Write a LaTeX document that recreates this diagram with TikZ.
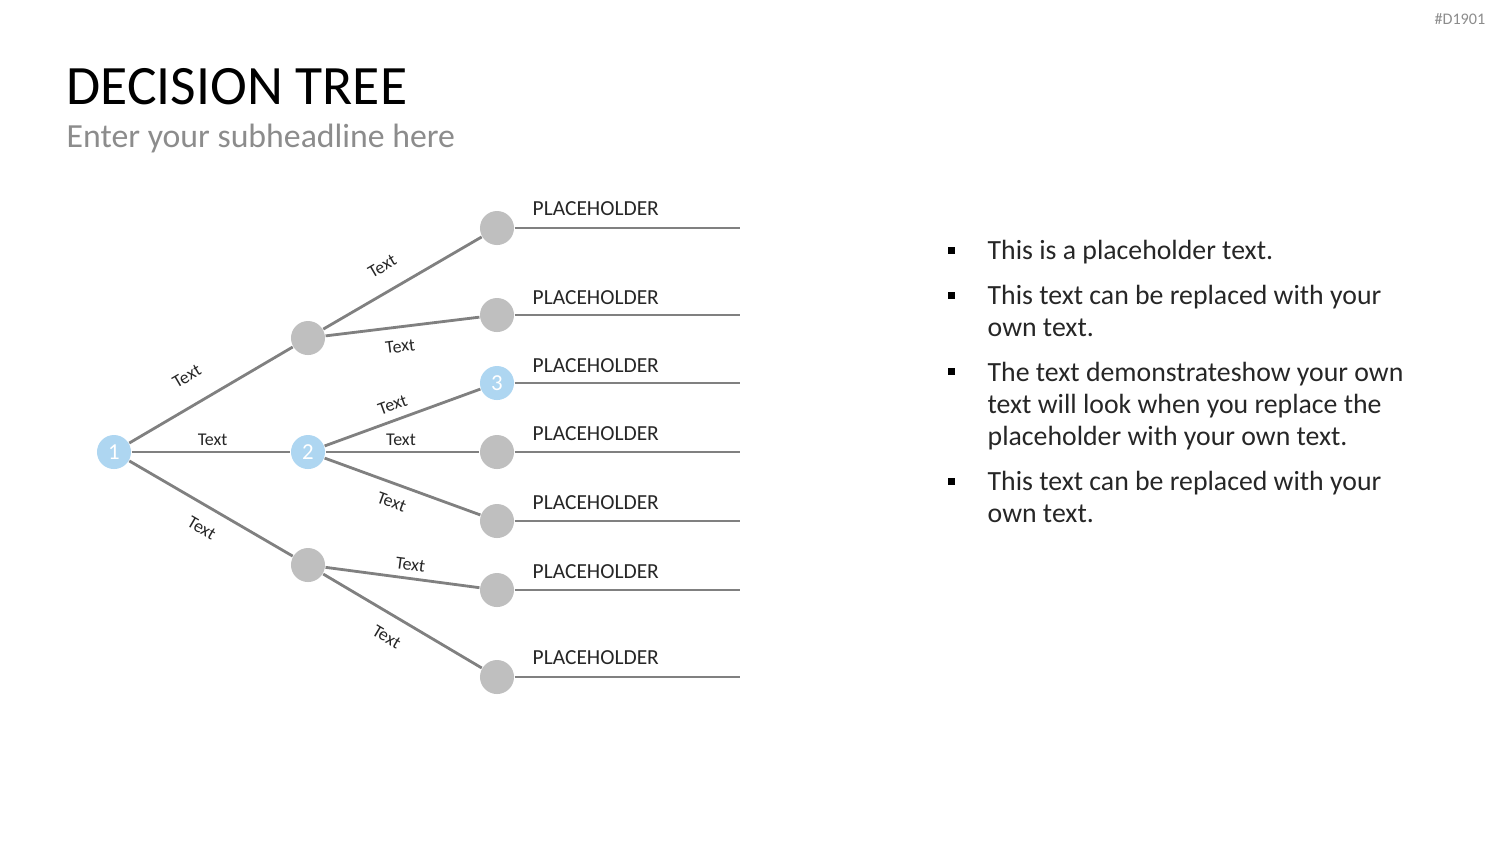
\documentclass[tikz,border=0pt]{standalone}
\usepackage{fontspec}
\setmainfont{Carlito}
\usepackage{tikz}
\usetikzlibrary{positioning}

\definecolor{dotblue}{HTML}{AED6F1}
\definecolor{dotgray}{HTML}{BFBFBF}
\definecolor{edgegray}{HTML}{808080}
\definecolor{subgray}{HTML}{8C8C8C}
\definecolor{textdark}{HTML}{262626}

\begin{document}
\begin{tikzpicture}[x=0.01cm,y=-0.01cm]
\useasboundingbox (0,0) rectangle (1500,844);

% header
\node[anchor=base west,inner sep=0pt,font=\fontsize{15.8}{18}\selectfont] (title) at (66,104) {DECISION TREE};
\node[anchor=base west,inner sep=0pt,text=subgray,font=\fontsize{9.6}{12}\selectfont] (subtitle) at (66,147) {Enter your subheadline here};
\node[anchor=base east,inner sep=0pt,text=subgray,font=\fontsize{4.6}{6}\selectfont] (tag) at (1486,24) {\#D1901};

\begin{scope}[every node/.style={circle,inner sep=0pt,minimum size=0.34cm,text=white,font=\fontsize{6.5}{8}\selectfont},
              blue_dot/.style={fill=dotblue},
              gray_dot/.style={fill=dotgray}]
    \node[blue_dot] (n1) at (114,452) {1};
    \node[gray_dot] (up) at (308,338) {};
    \node[blue_dot] (n2) at (308,452) {2};
    \node[gray_dot] (low) at (308,565) {};
    \node[gray_dot] (leaf1) at (497,228) {};
    \node[gray_dot] (leaf2) at (497,315) {};
    \node[blue_dot] (leaf3) at (497,383) {3};
    \node[gray_dot] (leaf4) at (497,452) {};
    \node[gray_dot] (leaf5) at (497,521) {};
    \node[gray_dot] (leaf6) at (497,590) {};
    \node[gray_dot] (leaf7) at (497,677) {};
\end{scope}

% line ends
\coordinate (end1) at (740,228);
\coordinate (end2) at (740,315);
\coordinate (end3) at (740,383);
\coordinate (end4) at (740,452);
\coordinate (end5) at (740,521);
\coordinate (end6) at (740,590);
\coordinate (end7) at (740,677);

\begin{scope}[every node/.style={sloped,inner sep=1.5pt,text=textdark,font=\fontsize{5.1}{6}\selectfont},
              branch/.style={draw=edgegray,line width=0.8pt}]
    \path (n1) edge [branch] node[pos=0.44,above=4.5pt] (t1) {Text} (up);
    \path (n1) edge [branch] node[pos=0.51,above] (t2) {Text} (n2);
    \path (n1) edge [branch] node[pos=0.51,below=2.6pt] (t3) {Text} (low);
    \path (up) edge [branch] node[pos=0.45,above=3.4pt] (t4) {Text} (leaf1);
    \path (up) edge [branch] node[pos=0.47,below=2pt] (t5) {Text} (leaf2);
    \path (n2) edge [branch] node[pos=0.47,above=0.8pt] (t6) {Text} (leaf3);
    \path (n2) edge [branch] node[pos=0.49,above] (t7) {Text} (leaf4);
    \path (n2) edge [branch] node[pos=0.47,below=1.6pt] (t8) {Text} (leaf5);
    \path (low) edge [branch] node[pos=0.54,above=0.4pt] (t9) {Text} (leaf6);
    \path (low) edge [branch] node[pos=0.47,below=2.6pt] (t10) {Text} (leaf7);
    \path (leaf1) edge [branch] (end1);
    \path (leaf2) edge [branch] (end2);
    \path (leaf3) edge [branch] (end3);
    \path (leaf4) edge [branch] (end4);
    \path (leaf5) edge [branch] (end5);
    \path (leaf6) edge [branch] (end6);
    \path (leaf7) edge [branch] (end7);
\end{scope}

\begin{scope}[every node/.style={anchor=base west,inner sep=0pt,text=textdark,font=\fontsize{6.1}{7.5}\selectfont}]
    \node (ph1) at (532,215) {PLACEHOLDER};
    \node (ph2) at (532,304) {PLACEHOLDER};
    \node (ph3) at (532,372) {PLACEHOLDER};
    \node (ph4) at (532,440) {PLACEHOLDER};
    \node (ph5) at (532,509) {PLACEHOLDER};
    \node (ph6) at (532,578) {PLACEHOLDER};
    \node (ph7) at (532,664) {PLACEHOLDER};
\end{scope}

% bullet list
\newcommand{\bullettext}[1]{\parbox[t]{5cm}{\raggedright #1}}
\begin{scope}[every node/.style={anchor=base west,inner sep=0pt,text=textdark,font=\fontsize{7.9}{9.1}\selectfont},
              square/.style={fill=black,minimum size=0.07cm,inner sep=0pt,anchor=center}]
    \node[square] (b1) at (951,250) {};
    \node (item1) at (987,259) {\bullettext{This is a placeholder text.}};
    \node[square] (b2) at (951,295) {};
    \node (item2) at (987,304) {\bullettext{This text can be replaced with your\\own text.}};
    \node[square] (b3) at (951,371) {};
    \node (item3) at (987,381) {\bullettext{The text demonstrateshow your own\\text will look when you replace the\\placeholder with your own text.}};
    \node[square] (b4) at (951,481) {};
    \node (item4) at (987,490) {\bullettext{This text can be replaced with your\\own text.}};
\end{scope}
\end{tikzpicture}
\end{document}
